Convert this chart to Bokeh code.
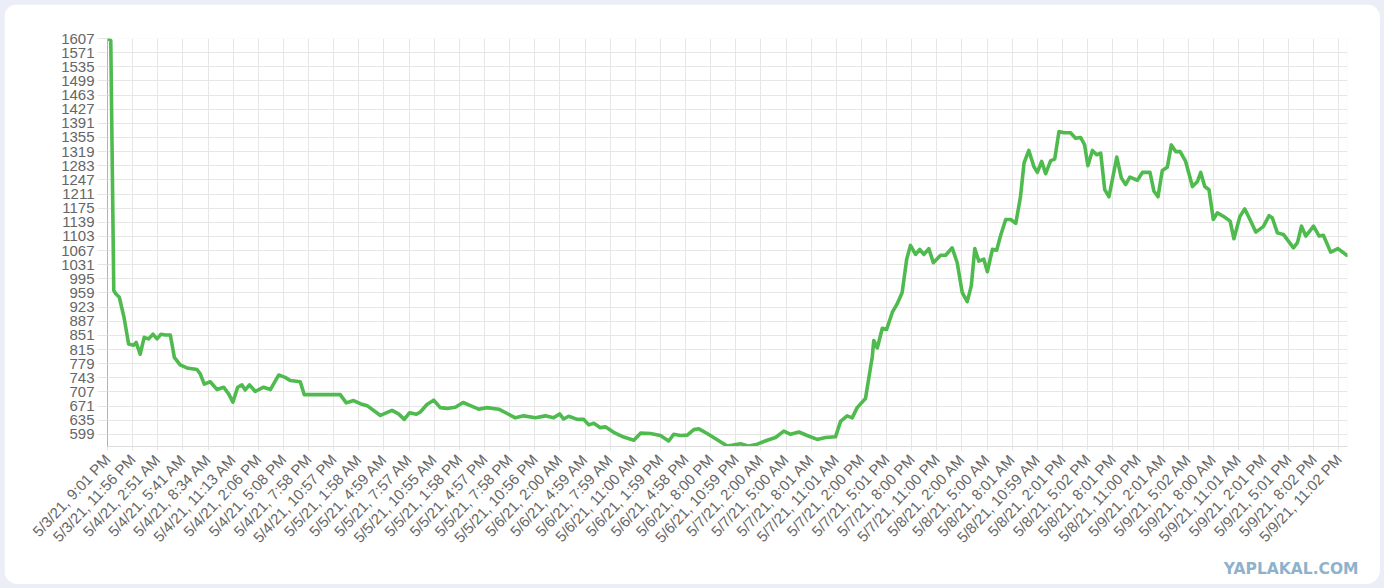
import math
from bokeh.plotting import figure
from bokeh.models import FixedTicker, ColumnDataSource, Range1d, Title
from bokeh.embed import file_html
from bokeh.resources import INLINE

# ---- data -------------------------------------------------------------
x_labels = [
    "5/3/21, 9:01 PM", "5/3/21, 11:56 PM",
    "5/4/21, 2:51 AM", "5/4/21, 5:41 AM", "5/4/21, 8:34 AM", "5/4/21, 11:13 AM",
    "5/4/21, 2:06 PM", "5/4/21, 5:08 PM", "5/4/21, 7:58 PM", "5/4/21, 10:57 PM",
    "5/5/21, 1:58 AM", "5/5/21, 4:59 AM", "5/5/21, 7:57 AM", "5/5/21, 10:55 AM",
    "5/5/21, 1:58 PM", "5/5/21, 4:57 PM", "5/5/21, 7:58 PM", "5/5/21, 10:56 PM",
    "5/6/21, 2:00 AM", "5/6/21, 4:59 AM", "5/6/21, 7:59 AM", "5/6/21, 11:00 AM",
    "5/6/21, 1:59 PM", "5/6/21, 4:58 PM", "5/6/21, 8:00 PM", "5/6/21, 10:59 PM",
    "5/7/21, 2:00 AM", "5/7/21, 5:00 AM", "5/7/21, 8:01 AM", "5/7/21, 11:01 AM",
    "5/7/21, 2:00 PM", "5/7/21, 5:01 PM", "5/7/21, 8:00 PM", "5/7/21, 11:00 PM",
    "5/8/21, 2:00 AM", "5/8/21, 5:00 AM", "5/8/21, 8:01 AM", "5/8/21, 10:59 AM",
    "5/8/21, 2:01 PM", "5/8/21, 5:02 PM", "5/8/21, 8:01 PM", "5/8/21, 11:00 PM",
    "5/9/21, 2:01 AM", "5/9/21, 5:02 AM", "5/9/21, 8:00 AM", "5/9/21, 11:01 AM",
    "5/9/21, 2:01 PM", "5/9/21, 5:01 PM", "5/9/21, 8:02 PM", "5/9/21, 11:02 PM",
]

y_ticks = [599, 635, 671, 707, 743, 779, 815, 851, 887, 923, 959, 995, 1031,
           1067, 1103, 1139, 1175, 1211, 1247, 1283, 1319, 1355, 1391, 1427,
           1463, 1499, 1535, 1571, 1607]

# position along the label axis (in label steps) and value
pos = [0.00, 0.13, 0.25, 0.33, 0.47, 0.66, 0.84, 1.04, 1.14, 1.30, 1.46, 1.63,
       1.81, 1.97, 2.13, 2.30, 2.50, 2.66, 2.89, 3.16, 3.56, 3.69, 3.85, 4.09,
       4.36, 4.62, 4.82, 4.99, 5.18, 5.35, 5.48, 5.65, 5.88, 6.21, 6.48, 6.81,
       7.07, 7.27, 7.67, 7.83, 8.20, 9.26, 9.50, 9.79, 10.06, 10.33, 10.86,
       11.32, 11.58, 11.81, 12.02, 12.29, 12.45, 12.71, 12.98, 13.24, 13.51,
       13.84, 14.15, 14.44, 14.77, 15.10, 15.57, 15.90, 16.23, 16.56, 17.03,
       17.42, 17.75, 17.99, 18.15, 18.35, 18.69, 18.95, 19.15, 19.35, 19.61,
       19.81, 20.14, 20.54, 20.94, 21.21, 21.60, 22.00, 22.33, 22.53, 22.80,
       23.07, 23.33, 23.53, 23.86, 24.26, 24.66, 25.19, 25.52, 25.85, 26.25,
       26.58, 26.91, 27.18, 27.51, 27.84, 28.24, 28.57, 28.97, 29.17, 29.43,
       29.63, 29.83, 30.16, 30.29, 30.43, 30.49, 30.63, 30.83, 31.00, 31.23,
       31.42, 31.62, 31.80, 31.95, 32.15, 32.32, 32.48, 32.68, 32.86, 33.15,
       33.35, 33.61, 33.81, 34.01, 34.21, 34.37, 34.51, 34.67, 34.87, 35.01,
       35.21, 35.38, 35.54, 35.74, 35.94, 36.14, 36.33, 36.47, 36.66, 36.86,
       37.00, 37.17, 37.33, 37.53, 37.69, 37.86, 38.06, 38.32, 38.52, 38.72,
       38.88, 39.01, 39.19, 39.36, 39.52, 39.68, 39.85, 40.16, 40.34, 40.51,
       40.68, 40.98, 41.18, 41.48, 41.64, 41.80, 41.97, 42.17, 42.33, 42.50,
       42.68, 42.90, 43.17, 43.37, 43.50, 43.66, 43.83, 44.00, 44.16, 44.43,
       44.67, 44.82, 45.06, 45.25, 45.46, 45.69, 45.99, 46.22, 46.35, 46.55,
       46.79, 47.19, 47.35, 47.51, 47.68, 47.99, 48.21, 48.38, 48.67, 48.96,
       49.31]

val = [1607, 1602, 965, 957, 948, 896, 829, 826, 833, 803, 846, 842,
       854, 842, 854, 852, 852, 795, 776, 768, 764, 753, 727, 733,
       713, 719, 702, 681, 719, 725, 712, 725, 708, 719, 713, 750,
       744, 736, 733, 700, 700, 700, 679, 685, 677, 672, 647,
       660, 651, 637, 654, 650, 656, 675, 686, 667, 665,
       668, 680, 672, 663, 667, 663, 652, 641, 646, 641,
       646, 641, 651, 638, 645, 637, 637, 623, 627, 616,
       618, 604, 592, 584, 602, 601, 596, 582, 599, 596,
       597, 611, 613, 601, 585, 569, 575, 569, 574, 584,
       591, 607, 599, 605, 596, 586, 591, 593, 632, 646,
       641, 667, 690, 741, 796, 838, 819, 869, 866, 910,
       931, 960, 1045, 1080, 1057, 1070, 1057, 1072, 1036, 1055,
       1055, 1074, 1036, 960, 937, 977, 1072, 1040, 1045, 1013,
       1070, 1068, 1106, 1146, 1146, 1136, 1205, 1290, 1322, 1281,
       1266, 1294, 1263, 1296, 1300, 1370, 1367, 1367, 1353, 1355,
       1336, 1283, 1322, 1311, 1315, 1222, 1204, 1305, 1252, 1235,
       1254, 1246, 1266, 1266, 1218, 1204, 1271, 1279, 1336, 1319,
       1319, 1294, 1230, 1243, 1266, 1230, 1222, 1146, 1163, 1153,
       1142, 1097, 1154, 1173, 1146, 1114, 1128, 1156, 1150, 1112,
       1108, 1074, 1087, 1129, 1104, 1129, 1104, 1106, 1063, 1072,
       1055]

# ---- figure -----------------------------------------------------------
FONT = "Liberation Sans"
LABEL_COLOR = "#666666"
GRID_COLOR = "#e6e6e6"

p = figure(width=1376, height=580, output_backend="svg", toolbar_location=None,
           x_range=Range1d(0, 49.34), y_range=Range1d(568, 1607),
           min_border_left=103, min_border_right=33,
           min_border_top=34, min_border_bottom=136)
p.background_fill_color = "white"
p.border_fill_color = "white"
p.outline_line_color = None
p.styles = {"border-radius": "14px", "overflow": "hidden"}

src = ColumnDataSource(data=dict(x=pos, y=val))
p.line("x", "y", source=src, line_color="#4fbb4f", line_width=3.6,
       line_join="round", line_cap="round")

xt = FixedTicker(ticks=list(range(len(x_labels))))
yt = FixedTicker(ticks=y_ticks)

p.xaxis.ticker = xt
p.yaxis.ticker = yt
p.xgrid.ticker = xt
p.ygrid.ticker = yt
p.xaxis.major_label_overrides = {i: lab for i, lab in enumerate(x_labels)}
p.xaxis.major_label_orientation = 0.82

for ax in (p.xaxis, p.yaxis):
    ax.major_label_text_font = FONT
    ax.major_label_text_font_size = "15px"
    ax.major_label_text_color = LABEL_COLOR
    ax.minor_tick_line_color = None
    ax.major_tick_in = 0
    ax.major_tick_line_color = GRID_COLOR

p.yaxis.major_tick_out = 10
p.yaxis.major_label_standoff = 3
p.yaxis.axis_line_color = "#b3b3b3"
p.xaxis.major_tick_out = 4
p.xaxis.major_label_standoff = 6
p.xaxis.axis_line_color = "#dcdcdc"

p.xgrid.grid_line_color = GRID_COLOR
p.ygrid.grid_line_color = GRID_COLOR

wm = Title(text="YAPLAKAL.COM", align="right", offset=-11, vertical_align="top",
           text_font="DejaVu Sans", text_font_style="bold",
           text_font_size="15.5px", text_color="#8fb2cc")
p.add_layout(wm, "below")

html = file_html(p, INLINE)
css = ("<style>html, body { background: #eceef7 !important; } "
       "body { padding: 4px !important; margin: 0 !important; }</style>")
html = html.replace("</head>", css + "</head>", 1)
open("out.html", "w").write(html)
